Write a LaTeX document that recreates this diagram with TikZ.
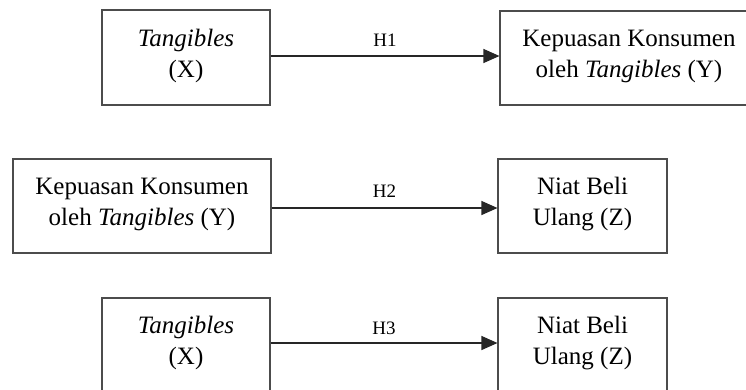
\documentclass[tikz,border=0pt]{standalone}
\usepackage{fontspec}
\setmainfont{Liberation Serif}
\usetikzlibrary{arrows.meta}
\begin{document}
\begin{tikzpicture}[x=1pt,y=-1pt,
  box/.style={draw=black!70, line width=1.1pt, rectangle, align=center,
    font=\fontsize{25}{31}\selectfont, inner sep=0pt, text depth=9pt},
  conn/.style={draw=black!85, line width=1.2pt, -{Triangle[length=16pt,width=14pt]}},
  hyp/.style={font=\fontsize{19}{22}\selectfont, inner sep=0pt}]
\useasboundingbox (0,0) rectangle (746,389);
\clip (0,0) rectangle (746,389);
\node[box, minimum width=168pt, minimum height=95pt] (x1) at (186,57.5) {\textit{Tangibles}\\(X)};
\node[box, minimum width=258pt, minimum height=94pt] (y1) at (629,58) {Kepuasan Konsumen\\oleh \textit{Tangibles} (Y)};
\node[box, minimum width=258pt, minimum height=94pt] (y2) at (142,206) {Kepuasan Konsumen\\oleh \textit{Tangibles} (Y)};
\node[box, minimum width=169pt, minimum height=94pt] (z1) at (582.5,206) {Niat Beli\\Ulang (Z)};
\node[box, minimum width=168pt, minimum height=94pt] (x2) at (186,345) {\textit{Tangibles}\\(X)};
\node[box, minimum width=169pt, minimum height=94pt] (z2) at (582.5,345) {Niat Beli\\Ulang (Z)};
\coordinate (a1) at ([yshift=1.5pt]x1.east);
\draw[conn] (a1) -- node[hyp, above=9pt] (h1) {H1} (a1 -| y1.west);
\coordinate (a2) at ([yshift=-2pt]y2.east);
\draw[conn] (a2) -- node[hyp, above=10pt] (h2) {H2} (a2 -| z1.west);
\coordinate (a3) at ([yshift=2pt]x2.east);
\draw[conn] (a3) -- node[hyp, above=8pt] (h3) {H3} (a3 -| z2.west);
\end{tikzpicture}
\end{document}
